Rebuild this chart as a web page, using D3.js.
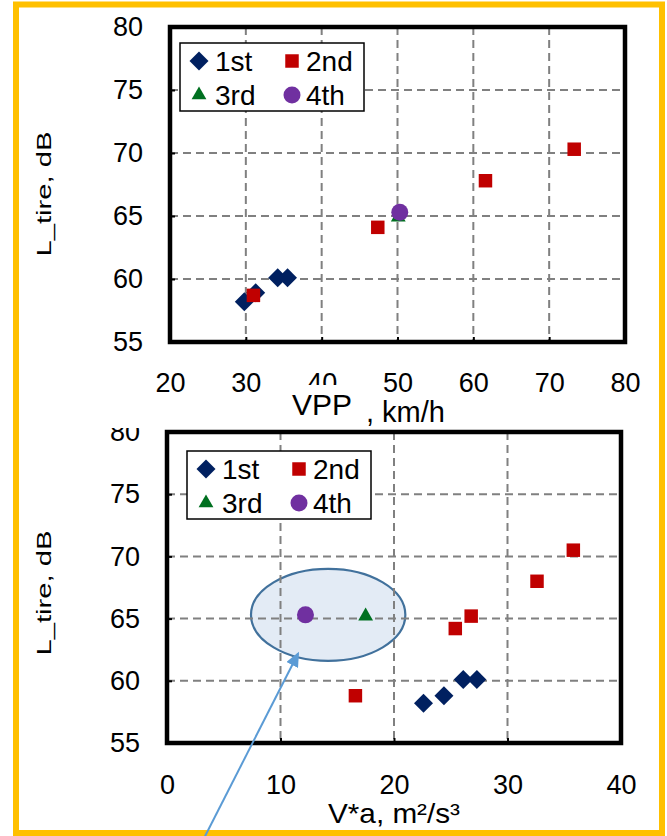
<!DOCTYPE html>
<html>
<head>
<meta charset="utf-8">
<script src="https://cdn.jsdelivr.net/npm/d3@7"></script>
<style>
  body { margin: 0; background: #fff; }
  text { font-family: "Liberation Sans", Arial, sans-serif; }
</style>
</head>
<body>
<div id="chart"></div>
<script>
// series names and colours
const seriesNames = ['1st', '2nd', '3rd', '4th'];
const seriesColors = ['#002060', '#c00000', '#007020', '#7030a0'];

// top panel : L_tire vs VPP (km/h)
const vppFirst = [[29.8, 58.2], [31.3, 58.9], [34.2, 60.1], [35.5, 60.1]];
const vppSecond = [[31.0, 58.7], [47.4, 64.1], [61.6, 67.8], [73.3, 70.3]];
const vppThird = [[50.1, 64.9]];
const vppFourth = [[50.3, 65.3]];
const vppTicks = [20, 30, 40, 50, 60, 70, 80];

// bottom panel : L_tire vs V*a (m2/s3)
const vaFirst = [[22.6, 58.2], [24.4, 58.8], [26.1, 60.1], [27.3, 60.1]];
const vaSecond = [[16.6, 58.8], [25.4, 64.2], [26.8, 65.2], [32.6, 68.0], [35.8, 70.5]];
const vaThird = [[17.5, 65.2]];
const vaFourth = [[12.2, 65.3]];
const vaTicks = [0, 10, 20, 30, 40];

const levelTicks = [55, 60, 65, 70, 75, 80];

// annotation in bottom panel (data units)
const ellipseCenter = [14.2, 65.3];
const ellipseRadii = [6.8, 3.7];
const arrowFrom = [3.35, 47.5];
const arrowTo = [11.55, 62.2];

const W = 667, H = 836;
const svg = d3.select('#chart').append('svg')
  .attr('width', W).attr('height', H);

svg.append('rect').attr('width', W).attr('height', H).attr('fill', '#fff');

// symbols
const symbolFor = [
  d3.symbol().type(d3.symbolSquare).size(180),   // diamond (rotated)
  d3.symbol().type(d3.symbolSquare).size(182),
  d3.symbol().type(d3.symbolTriangle).size(95),
  d3.symbol().type(d3.symbolCircle).size(227)
];
function drawSymbol(g, i, cx, cy) {
  g.append('path')
    .attr('d', symbolFor[i]())
    .attr('fill', seriesColors[i])
    .attr('transform', `translate(${cx},${cy})` + (i === 0 ? ' rotate(45)' : ''));
}

function drawPanel(opts) {
  const g = svg.append('g');
  const x = d3.scaleLinear().domain(opts.xDomain).range([opts.left, opts.right]);
  const y = d3.scaleLinear().domain([55, 80]).range([opts.bottom, opts.top]);

  if (opts.beforeGrid) opts.beforeGrid(g, x, y);

  // grid
  g.append('g').selectAll('line')
    .data(opts.xTicks.slice(1, -1))
    .join('line')
    .attr('x1', d => x(d)).attr('x2', d => x(d))
    .attr('y1', opts.top).attr('y2', opts.bottom)
    .attr('stroke', '#808080').attr('stroke-width', 2)
    .attr('stroke-dasharray', '8,5');
  g.append('g').selectAll('line')
    .data(levelTicks.slice(1, -1))
    .join('line')
    .attr('x1', opts.left).attr('x2', opts.right)
    .attr('y1', d => y(d)).attr('y2', d => y(d))
    .attr('stroke', '#808080').attr('stroke-width', 2)
    .attr('stroke-dasharray', '8,5');

  // axes
  const xAxis = d3.axisBottom(x).tickValues(opts.xTicks).tickSize(-5)
    .tickPadding(opts.xPad).tickFormat(d3.format('d'));
  g.append('g')
    .attr('transform', `translate(0,${opts.bottom})`)
    .call(xAxis)
    .call(a => a.select('.domain').remove())
    .call(a => a.selectAll('line').attr('stroke', '#000').attr('stroke-width', 2))
    .call(a => a.selectAll('text').attr('class', opts.xLabelClass || null))
    .attr('font-size', 27).attr('font-family', null);

  const yAxis = d3.axisLeft(y).tickValues(levelTicks).tickSize(-5)
    .tickPadding(27).tickFormat(d3.format('d'));
  g.append('g')
    .attr('transform', `translate(${opts.left},0)`)
    .call(yAxis)
    .call(a => a.select('.domain').remove())
    .call(a => a.selectAll('line').attr('stroke', '#000').attr('stroke-width', 2))
    .attr('font-size', 27).attr('font-family', null);

  // frame
  g.append('rect')
    .attr('x', opts.left).attr('y', opts.top)
    .attr('width', opts.right - opts.left).attr('height', opts.bottom - opts.top)
    .attr('fill', 'none').attr('stroke', '#000').attr('stroke-width', 4.5);

  // points
  opts.series.forEach((pts, i) => {
    pts.forEach(p => drawSymbol(g, i, x(p[0]), y(p[1])));
  });

  // legend
  const lg = g.append('g')
    .attr('transform', `translate(${opts.left + opts.legend[0]},${opts.top + opts.legend[1]})`);
  lg.append('rect').attr('width', 184).attr('height', 68)
    .attr('fill', '#fff').attr('stroke', '#000').attr('stroke-width', 1.5);
  seriesNames.forEach((name, i) => {
    const col = i % 2, row = Math.floor(i / 2);
    drawSymbol(lg, i, col ? 112 : 19, row ? 52 : 18);
    lg.append('text')
      .attr('x', col ? 126 : 35).attr('y', row ? 62 : 28)
      .attr('font-size', 28).text(name);
  });

  // y title
  g.append('text')
    .attr('transform', `translate(51,${opts.yTitleY}) rotate(-90)`)
    .attr('text-anchor', 'middle')
    .attr('font-size', 21)
    .attr('textLength', 125).attr('lengthAdjust', 'spacingAndGlyphs')
    .text('L_tire, dB');

  return { g, x, y };
}

// bottom panel first (top panel picture overlaps it)
drawPanel({
  xDomain: [0, 40], xTicks: vaTicks,
  left: 167, right: 621, top: 432, bottom: 743,
  xPad: 32, legend: [20, 19], yTitleY: 593,
  series: [vaFirst, vaSecond, vaThird, vaFourth],
  beforeGrid: (g, x, y) => {
    g.append('ellipse')
      .attr('cx', x(ellipseCenter[0])).attr('cy', y(ellipseCenter[1]))
      .attr('rx', x(ellipseRadii[0]) - x(0))
      .attr('ry', y(0) - y(ellipseRadii[1]))
      .attr('fill', '#dce6f2').attr('fill-opacity', 0.8)
      .attr('stroke', '#41719c').attr('stroke-width', 2.2);
  }
});
svg.append('text')
  .attr('x', 394).attr('y', 823).attr('text-anchor', 'middle')
  .attr('font-size', 28)
  .attr('textLength', 132).attr('lengthAdjust', 'spacingAndGlyphs')
  .text('V*a, m²/s³');

// top panel background covers the top of the lower panel
svg.append('rect').attr('x', 0).attr('y', 0).attr('width', W).attr('height', 428).attr('fill', '#fff');

drawPanel({
  xDomain: [20, 80], xTicks: vppTicks,
  left: 170, right: 625, top: 27, bottom: 342,
  xPad: 31, legend: [10, 16], yTitleY: 194,
  series: [vppFirst, vppSecond, vppThird, vppFourth]
});

// title box hides the lower half of "40"
svg.append('rect').attr('x', 288).attr('y', 385).attr('width', 76).attr('height', 43).attr('fill', '#fff');
svg.append('text').attr('x', 292).attr('y', 415).attr('font-size', 30).text('VPP');
svg.append('text').attr('x', 366).attr('y', 422).attr('font-size', 29).text(', km/h');

// outer frame
svg.append('rect')
  .attr('x', 16).attr('y', 4.5).attr('width', 646).attr('height', 828.5)
  .attr('fill', 'none').attr('stroke', '#ffc000').attr('stroke-width', 6);

// arrow pointing at the ellipse
const xa = d3.scaleLinear().domain([0, 40]).range([167, 621]);
const ya = d3.scaleLinear().domain([55, 80]).range([743, 432]);
svg.append('defs').append('marker')
  .attr('id', 'head').attr('markerUnits', 'userSpaceOnUse')
  .attr('viewBox', '0 0 15 13').attr('markerWidth', 15).attr('markerHeight', 13)
  .attr('refX', 13).attr('refY', 6.5).attr('orient', 'auto')
  .append('path').attr('d', 'M0,0 L15,6.5 L0,13 Z').attr('fill', '#5b9bd5');
svg.append('line')
  .attr('x1', xa(arrowFrom[0])).attr('y1', ya(arrowFrom[1]))
  .attr('x2', xa(arrowTo[0])).attr('y2', ya(arrowTo[1]))
  .attr('stroke', '#5b9bd5').attr('stroke-width', 2)
  .attr('marker-end', 'url(#head)');
</script>
</body>
</html>
